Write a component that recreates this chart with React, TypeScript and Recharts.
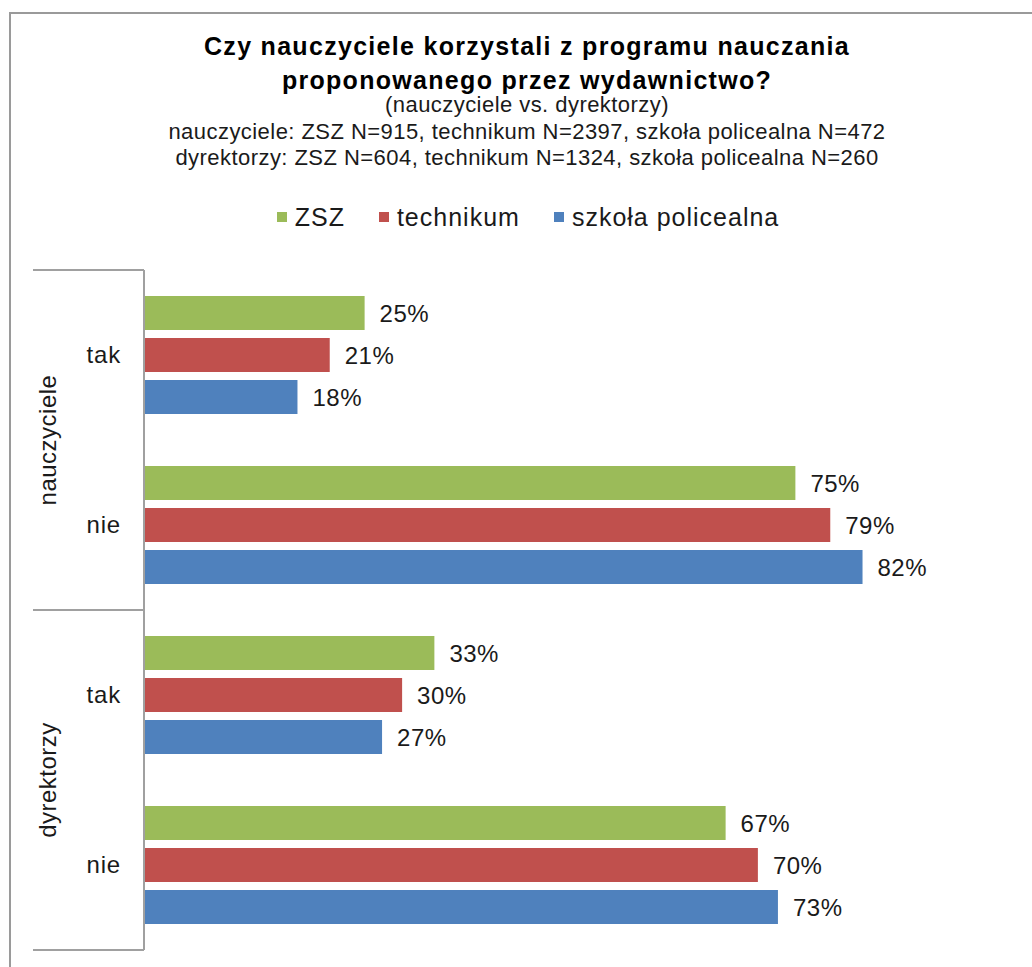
import React from 'react';
import { BarChart, Bar, XAxis, YAxis, LabelList } from 'recharts';

const groups = ['nauczyciele', 'nauczyciele', 'dyrektorzy', 'dyrektorzy'];
const answers = ['tak', 'nie', 'tak', 'nie'];
const zszValues = [25.3, 74.7, 33.3, 66.7];
const technikumValues = [21.3, 78.7, 29.6, 70.4];
const policealnaValues = [17.6, 82.4, 27.3, 72.7];

const seriesKeys = ['zsz', 'technikum', 'policealna'];
const seriesNames = ['ZSZ', 'technikum', 'szkoła policealna'];
const seriesColors = ['#9BBB59', '#C0504D', '#4F81BD'];

const titleLines = [
  'Czy nauczyciele korzystali z programu nauczania',
  'proponowanego przez wydawnictwo?',
];
const subtitleLines = [
  '(nauczyciele vs. dyrektorzy)',
  'nauczyciele: ZSZ N=915, technikum N=2397, szkoła policealna N=472',
  'dyrektorzy: ZSZ N=604, technikum N=1324, szkoła policealna N=260',
];

const data = answers.map((a, i) => ({
  key: `${groups[i]}|${a}|${i}`,
  group: groups[i],
  answer: a,
  zsz: zszValues[i],
  technikum: technikumValues[i],
  policealna: policealnaValues[i],
}));

const FONT = '"Liberation Sans", Arial, sans-serif';
const TEXT = '#1a1a1a';
const LINE = '#a0a0a0';

const GroupTick = (props: any) => {
  const { x, y, payload, index } = props;
  const half = payload && typeof payload.offset === 'number' && payload.offset > 0 ? payload.offset : 85;
  const axisX = x + 23;
  const g = groups[index];
  const isFirst = index === 0 || groups[index - 1] !== g;
  const isLast = index === groups.length - 1 || groups[index + 1] !== g;
  let count = 0;
  for (let j = index; j < groups.length && groups[j] === g; j++) count++;
  const mid = y - half + count * half;
  return (
    <g>
      <text
        x={x}
        y={y}
        dy="0.35em"
        textAnchor="end"
        fontFamily={FONT}
        fontSize={24}
        letterSpacing={0.8}
        fill={TEXT}
      >
        {answers[index]}
      </text>
      {isFirst && (
        <line x1={33} x2={axisX} y1={y - half} y2={y - half} stroke={LINE} strokeWidth={2} />
      )}
      {isLast && (
        <line x1={33} x2={axisX} y1={y + half} y2={y + half} stroke={LINE} strokeWidth={2} />
      )}
      {isFirst && (
        <text
          x={56}
          y={mid}
          textAnchor="middle"
          transform={`rotate(-90, 56, ${mid})`}
          fontFamily={FONT}
          fontSize={24}
          letterSpacing={0.5}
          fill={TEXT}
        >
          {g}
        </text>
      )}
    </g>
  );
};

export default function App() {
  return (
    <div
      style={{
        position: 'absolute',
        left: 0,
        top: 0,
        width: 1032,
        height: 967,
        overflow: 'hidden',
        background: '#fff',
        fontFamily: FONT,
      }}
    >
      <div
        style={{
          position: 'absolute',
          left: 9,
          top: 12,
          width: 1100,
          height: 1100,
          border: '2px solid #9a9a9a',
          boxSizing: 'border-box',
        }}
      />
      <div
        style={{
          position: 'absolute',
          left: 0,
          top: 33,
          width: 1054,
          textAlign: 'center',
          fontWeight: 'bold',
          fontSize: 25,
          lineHeight: '26px',
          letterSpacing: 1.3,
          color: '#000',
        }}
      >
        {titleLines.map((t, i) => (
          <div key={i} style={{ marginTop: i === 0 ? 0 : 8 }}>
            {t}
          </div>
        ))}
      </div>
      <div
        style={{
          position: 'absolute',
          left: 0,
          top: 94,
          width: 1054,
          textAlign: 'center',
          fontSize: 22,
          lineHeight: '22px',
          letterSpacing: 0.45,
          color: TEXT,
        }}
      >
        {subtitleLines.map((t, i) => (
          <div key={i} style={{ marginTop: i === 0 ? 0 : 4.5 }}>
            {t}
          </div>
        ))}
      </div>
      <div
        style={{
          position: 'absolute',
          left: 0,
          top: 202,
          width: 1056,
          height: 30,
          display: 'flex',
          justifyContent: 'center',
          alignItems: 'center',
          fontSize: 25,
          letterSpacing: 1,
          color: TEXT,
        }}
      >
        {seriesNames.map((n, i) => (
          <div
            key={n}
            style={{
              display: 'flex',
              alignItems: 'center',
              marginLeft: i === 0 ? 0 : 34,
            }}
          >
            <span
              style={{
                display: 'inline-block',
                width: 10,
                height: 10,
                background: seriesColors[i],
                marginRight: 8,
              }}
            />
            <span>{n}</span>
          </div>
        ))}
      </div>
      <div style={{ position: 'absolute', left: 0, top: 0 }}>
        <BarChart
          width={1032}
          height={967}
          data={data}
          layout="vertical"
          margin={{ top: 270, right: 16, bottom: 17, left: 0 }}
          barSize={34}
          barGap={8}
        >
          <XAxis type="number" domain={[0, 100]} hide />
          <YAxis
            type="category"
            dataKey="key"
            width={144}
            interval={0}
            tickLine={false}
            tickSize={0}
            tickMargin={23}
            axisLine={{ stroke: LINE, strokeWidth: 2 }}
            tick={<GroupTick />}
          />
          {seriesKeys.map((k, i) => (
            <Bar
              key={k}
              dataKey={k}
              name={seriesNames[i]}
              fill={seriesColors[i]}
              isAnimationActive={false}
            >
              <LabelList
                dataKey={k}
                position="right"
                offset={15}
                formatter={(v: any) => `${Math.round(Number(v))}%`}
                style={{ fontFamily: FONT, fontSize: 24, letterSpacing: 0.5, fill: TEXT }}
              />
            </Bar>
          ))}
        </BarChart>
      </div>
    </div>
  );
}
